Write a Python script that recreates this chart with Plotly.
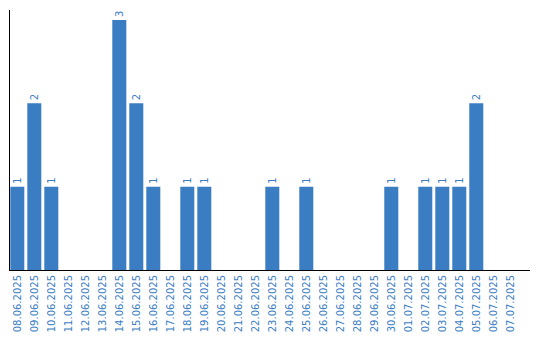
import plotly.graph_objects as go

dates = ["08.06.2025", "09.06.2025", "10.06.2025", "11.06.2025", "12.06.2025",
         "13.06.2025", "14.06.2025", "15.06.2025", "16.06.2025", "17.06.2025",
         "18.06.2025", "19.06.2025", "20.06.2025", "21.06.2025", "22.06.2025",
         "23.06.2025", "24.06.2025", "25.06.2025", "26.06.2025", "27.06.2025",
         "28.06.2025", "29.06.2025", "30.06.2025", "01.07.2025", "02.07.2025",
         "03.07.2025", "04.07.2025", "05.07.2025", "06.07.2025", "07.07.2025"]
counts = [1, 2, 1, 0, 0, 0, 3, 2, 1, 0,
          1, 1, 0, 0, 0, 1, 0, 1, 0, 0,
          0, 0, 1, 0, 1, 1, 1, 2, 0, 0]

blue = "#3a7dc3"
labels = [str(v) if v > 0 else "" for v in counts]

fig = go.Figure(go.Bar(
    x=dates, y=counts, marker_color=blue, marker_line_width=0,
    text=labels, textposition="outside", textangle=-90,
    textfont=dict(family="DejaVu Sans", size=10, color=blue),
    cliponaxis=False,
))

fig.update_layout(
    width=540, height=340,
    margin=dict(l=10, r=10, t=10, b=70, autoexpand=False),
    paper_bgcolor="white", plot_bgcolor="white",
    bargap=0.176, showlegend=False,
    font=dict(family="DejaVu Sans", size=10, color=blue),
)
fig.update_xaxes(
    type="category", range=[-0.43, 30.16], tickangle=-90,
    showline=True, linecolor="black", linewidth=1,
    showgrid=False, ticks="", automargin=False,
    tickfont=dict(family="DejaVu Sans", size=10, color=blue),
)
fig.update_yaxes(
    range=[0, 3.12], showline=True, linecolor="black", linewidth=1,
    showgrid=False, showticklabels=False, ticks="", zeroline=False,
    automargin=False,
)

fig.write_html("out.html")
